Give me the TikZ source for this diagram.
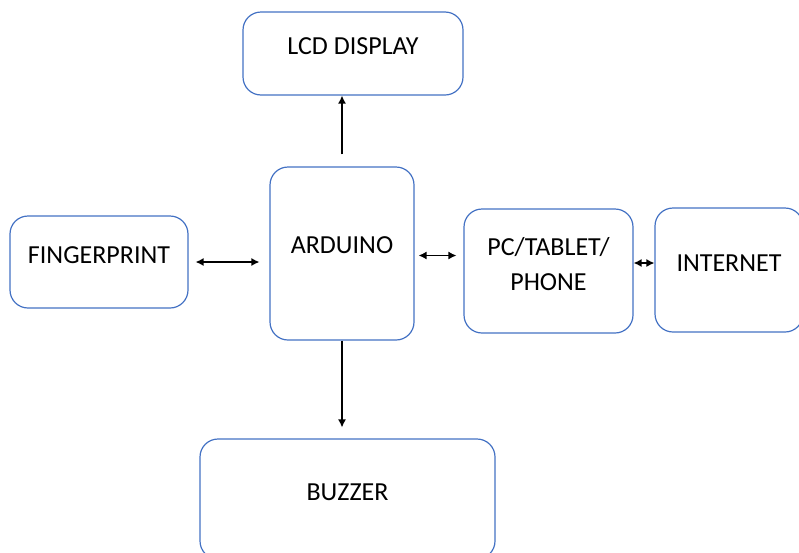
\documentclass[tikz,border=0pt]{standalone}
\usepackage{fontspec}
\setmainfont{Carlito}
\usetikzlibrary{positioning, calc, arrows.meta}

\definecolor{boxblue}{HTML}{4472C4}

\begin{document}
\begin{tikzpicture}[x=1pt, y=-1pt,
		block/.style={draw=boxblue, line width=1.2pt, rounded corners=18pt, fill=white, text depth=14pt, align=center, font=\fontsize{26}{35}\selectfont},
		link/.style={line width=1.3pt, {Latex[length=8pt,width=8pt]}-{Latex[length=8pt,width=8pt]}},
		oneway/.style={line width=1.3pt, -{Latex[length=8pt,width=8pt]}}]
			\useasboundingbox (0, 0) rectangle (799, 552);
			\clip (0, 0) rectangle (799, 552);
			\node (lcd) at (353, 53.5) [block, minimum width=220pt, minimum height=83pt] {LCD DISPLAY};
			\node (arduino) at (342, 253.5) [block, minimum width=144pt, minimum height=173pt, text depth=17pt] {ARDUINO};
			\node (finger) at (99, 262) [block, minimum width=178pt, minimum height=92pt] {FINGERPRINT};
			\node (pc) at (548.5, 271) [block, minimum width=169pt, minimum height=124pt] {PC/TABLET/\\PHONE};
			\node (internet) at (729, 270) [block, minimum width=148pt, minimum height=124pt] {INTERNET};
			\node (buzzer) at (347.5, 499) [block, minimum width=295pt, minimum height=120pt] {BUZZER};
			
			\draw[oneway, shorten <=12pt] (arduino.north) to (arduino.north |- lcd.south);
			\draw[oneway, shorten >=11pt] (arduino.south) to (arduino.south |- buzzer.north);
			\draw[link, shorten <=7pt, shorten >=10pt] (finger.east) to (finger.east -| arduino.west);
			\draw[link, shorten <=4pt, shorten >=7pt] ([yshift=-2]arduino.east) to ([yshift=-2]arduino.east -| pc.west);
			\draw[link] ([yshift=8]pc.east) to ([yshift=8]pc.east -| internet.west);
		\end{tikzpicture}
\end{document}
